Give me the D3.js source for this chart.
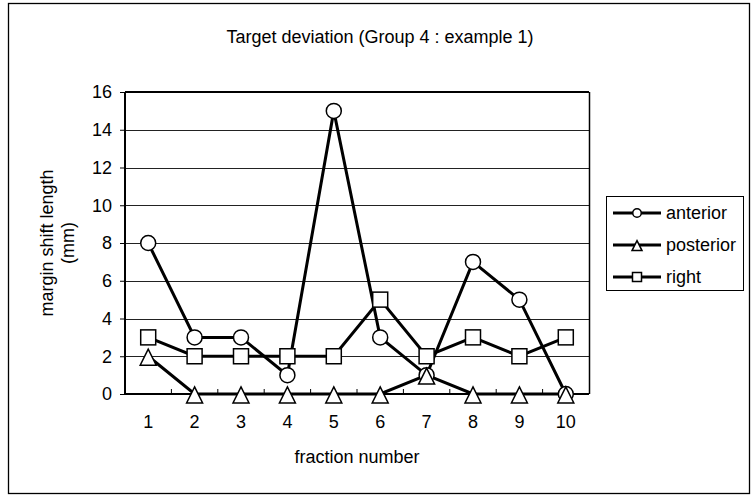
<!DOCTYPE html>
<html>
<head>
<meta charset="utf-8">
<script src="https://cdn.jsdelivr.net/npm/d3@7"></script>
<style>
  body { margin: 0; background: #fff; }
  svg { display: block; font-family: "Liberation Sans", Arial, sans-serif; }
</style>
</head>
<body>
<div id="svg-wrapper"></div>
<script>
// chart data
const fractions = [1, 2, 3, 4, 5, 6, 7, 8, 9, 10];
const anterior = [8, 3, 3, 1, 15, 3, 1, 7, 5, 0];
const posterior = [2, 0, 0, 0, 0, 0, 1, 0, 0, 0];
const right = [3, 2, 2, 2, 2, 5, 2, 3, 2, 3];
const yTicks = [0, 2, 4, 6, 8, 10, 12, 14, 16];
const seriesNames = ["anterior", "posterior", "right"];

const series = [
  { name: seriesNames[0], values: anterior, marker: "circle" },
  { name: seriesNames[1], values: posterior, marker: "triangle" },
  { name: seriesNames[2], values: right, marker: "square" },
];

const fontSize = 18;
const svgWidth = 756;
const svgHeight = 495;
const svg = d3
  .select("#svg-wrapper")
  .append("svg")
  .attr("width", svgWidth)
  .attr("height", svgHeight);

// outer frame
svg
  .append("rect")
  .attr("x", 8.5)
  .attr("y", 3.5)
  .attr("width", 741)
  .attr("height", 490)
  .attr("fill", "#fff")
  .attr("stroke", "#000")
  .attr("stroke-width", 1.3);

// plot area
const plot = { left: 125, top: 92, right: 589, bottom: 394 };

const xScale = d3
  .scaleBand()
  .domain(fractions)
  .range([plot.left, plot.right]);
const yScale = d3
  .scaleLinear()
  .domain([0, 16])
  .range([plot.bottom, plot.top]);

// gridlines
svg
  .append("g")
  .selectAll("line")
  .data(yTicks.filter((d) => d > 0))
  .enter()
  .append("line")
  .attr("x1", plot.left)
  .attr("x2", plot.right)
  .attr("y1", (d) => Math.round(yScale(d)) + 0.5)
  .attr("y2", (d) => Math.round(yScale(d)) + 0.5)
  .attr("stroke", "#222")
  .attr("stroke-width", 1);

// plot border: thick left/top, thin right
svg
  .append("line")
  .attr("x1", plot.right + 0.5)
  .attr("x2", plot.right + 0.5)
  .attr("y1", plot.top)
  .attr("y2", plot.bottom)
  .attr("stroke", "#000")
  .attr("stroke-width", 1.5);
svg
  .append("line")
  .attr("x1", plot.left)
  .attr("x2", plot.right)
  .attr("y1", plot.top)
  .attr("y2", plot.top)
  .attr("stroke", "#000")
  .attr("stroke-width", 2);

// y axis
const yAxis = d3
  .axisLeft(yScale)
  .tickValues(yTicks)
  .tickSize(5)
  .tickPadding(8);
const yG = svg
  .append("g")
  .attr("transform", `translate(${plot.left}, 0)`)
  .call(yAxis);
yG.select(".domain").attr("stroke-width", 2).attr("d", `M0,${plot.top}V${plot.bottom}`);
yG.selectAll("text")
  .attr("font-size", fontSize)
  .attr("font-family", "Liberation Sans, Arial, sans-serif")
  .attr("fill", "#000");

// x axis with inner ticks at category boundaries
const xAxis = d3.axisBottom(xScale).tickSize(0).tickPadding(21);
const xG = svg
  .append("g")
  .attr("transform", `translate(0, ${plot.bottom})`)
  .call(xAxis);
xG.select(".domain").attr("stroke-width", 2).attr("d", `M${plot.left},0H${plot.right}`);
xG.selectAll("text")
  .attr("font-size", fontSize)
  .attr("font-family", "Liberation Sans, Arial, sans-serif")
  .attr("fill", "#000");
xG
  .selectAll(".boundary")
  .data(fractions.slice(1))
  .enter()
  .append("line")
  .attr("class", "boundary")
  .attr("x1", (d) => xScale(d))
  .attr("x2", (d) => xScale(d))
  .attr("y1", 0)
  .attr("y2", -5)
  .attr("stroke", "#000");

// titles
svg
  .append("text")
  .attr("x", 380)
  .attr("y", 43)
  .attr("text-anchor", "middle")
  .attr("font-size", fontSize)
  .text("Target deviation (Group 4 : example 1)");

svg
  .append("text")
  .attr("x", (plot.left + plot.right) / 2)
  .attr("y", 463)
  .attr("text-anchor", "middle")
  .attr("font-size", fontSize)
  .text("fraction number");

const yTitle = svg
  .append("text")
  .attr("transform", `translate(53, ${(plot.top + plot.bottom) / 2}) rotate(-90)`)
  .attr("text-anchor", "middle")
  .attr("font-size", fontSize);
yTitle.append("tspan").attr("x", 0).attr("dy", 0).text("margin shift length");
yTitle.append("tspan").attr("x", 0).attr("dy", 21).text("(mm)");

// marker drawing
function drawMarker(g, type, size) {
  if (type === "circle") {
    g.append("circle").attr("r", size / 2);
  } else if (type === "square") {
    g.append("rect")
      .attr("x", -size / 2)
      .attr("y", -size / 2)
      .attr("width", size)
      .attr("height", size);
  } else {
    g.append("path").attr(
      "d",
      `M0,${-size * 0.44}L${size / 2},${size * 0.56}L${-size / 2},${size * 0.56}Z`
    );
  }
  g.selectAll("*").attr("fill", "#fff").attr("stroke", "#000").attr("stroke-width", 1.5);
}

const line = d3
  .line()
  .x((d, i) => xScale(fractions[i]) + xScale.bandwidth() / 2)
  .y((d) => yScale(d));

// lines first, then markers
series.forEach((s) => {
  svg
    .append("path")
    .datum(s.values)
    .attr("d", line)
    .attr("fill", "none")
    .attr("stroke", "#000")
    .attr("stroke-width", 3);
});

const markerSizes = { circle: 15, square: 15, triangle: 16 };
series.forEach((s) => {
  s.values.forEach((v, i) => {
    const g = svg
      .append("g")
      .attr(
        "transform",
        `translate(${xScale(fractions[i]) + xScale.bandwidth() / 2}, ${yScale(v)})`
      );
    drawMarker(g, s.marker, markerSizes[s.marker]);
  });
});

// legend
const legend = svg.append("g").attr("transform", "translate(606, 196)");
legend
  .append("rect")
  .attr("x", 0.5)
  .attr("y", 0.5)
  .attr("width", 137)
  .attr("height", 94)
  .attr("fill", "#fff")
  .attr("stroke", "#000");
const legendSizes = { circle: 8.5, square: 9, triangle: 10 };
series.forEach((s, i) => {
  const row = legend.append("g").attr("transform", `translate(0, ${17 + i * 32})`);
  row
    .append("line")
    .attr("x1", 7)
    .attr("x2", 55)
    .attr("stroke", "#000")
    .attr("stroke-width", 3);
  drawMarker(row.append("g").attr("transform", "translate(31, 0)"), s.marker, legendSizes[s.marker]);
  row
    .append("text")
    .attr("x", 60)
    .attr("y", 6)
    .attr("font-size", fontSize)
    .text(s.name);
});
</script>
</body>
</html>
